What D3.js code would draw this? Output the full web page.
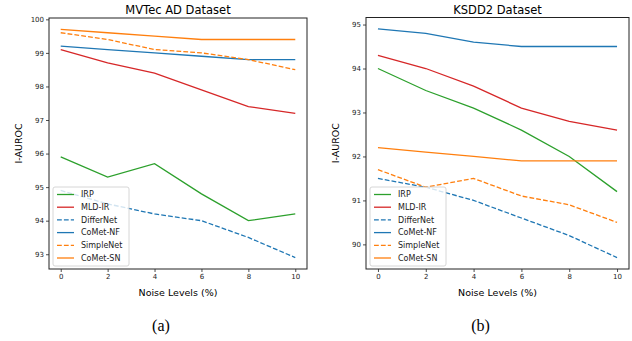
<!DOCTYPE html>
<html>
<head>
<meta charset="utf-8">
<script src="https://cdn.jsdelivr.net/npm/d3@7"></script>
<style>
  body { margin: 0; background: #fff; }
  svg { display: block; }
</style>
</head>
<body>
<svg id="chart" width="632" height="341"></svg>
<script>
const noiseLevels = [0, 2, 4, 6, 8, 10];
const methods = ['IRP', 'MLD-IR', 'DifferNet', 'CoMet-NF', 'SimpleNet', 'CoMet-SN'];
const colors = ['#2ca02c', '#d62728', '#1f77b4', '#1f77b4', '#ff7f0e', '#ff7f0e'];
const dashed = [false, false, true, false, true, false];

// MVTec AD
const mvtecValues = [
    [95.9, 95.3, 95.7, 94.8, 94.0, 94.2],
    [99.1, 98.7, 98.4, 97.9, 97.4, 97.2],
    [94.9, 94.5, 94.2, 94.0, 93.5, 92.9],
    [99.2, 99.1, 99.0, 98.9, 98.8, 98.8],
    [99.6, 99.4, 99.1, 99.0, 98.8, 98.5],
    [99.7, 99.6, 99.5, 99.4, 99.4, 99.4]
];
const mvtecTicks = [93, 94, 95, 96, 97, 98, 99, 100];

// KSDD2
const ksddValues = [
    [94.0, 93.5, 93.1, 92.6, 92.0, 91.2],
    [94.3, 94.0, 93.6, 93.1, 92.8, 92.6],
    [91.5, 91.3, 91.0, 90.6, 90.2, 89.7],
    [94.9, 94.8, 94.6, 94.5, 94.5, 94.5],
    [91.7, 91.3, 91.5, 91.1, 90.9, 90.5],
    [92.2, 92.1, 92.0, 91.9, 91.9, 91.9]
];
const ksddTicks = [90, 91, 92, 93, 94, 95];

const svg = d3.select('#chart');
const font = 'DejaVu Sans, sans-serif';

function drawPanel(opts) {
    const { left, right, top, bottom, title, values, ticks, caption } = opts;
    const g = svg.append('g');

    const all = values.flat();
    const lo = d3.min(all), hi = d3.max(all);
    const pad = (hi - lo) * 0.05;

    const x = d3.scaleLinear().domain([-0.5, 10.5]).range([left, right]);
    const y = d3.scaleLinear().domain([lo - pad, hi + pad]).range([bottom, top]);

    // lines
    const line = d3.line()
        .x((d, i) => x(noiseLevels[i]))
        .y(d => y(d));

    values.forEach((vals, k) => {
        g.append('path')
            .datum(vals)
            .attr('d', line)
            .attr('fill', 'none')
            .attr('stroke', colors[k])
            .attr('stroke-width', 1.3)
            .attr('stroke-dasharray', dashed[k] ? '4.8,2.1' : null);
    });

    // axes
    const xAxis = g.append('g')
        .attr('transform', `translate(0,${bottom})`)
        .call(d3.axisBottom(x).tickValues(noiseLevels).tickFormat(d3.format('d')).tickSize(3).tickPadding(2));
    const yAxis = g.append('g')
        .attr('transform', `translate(${left},0)`)
        .call(d3.axisLeft(y).tickValues(ticks).tickFormat(d3.format('d')).tickSize(3).tickPadding(2));

    [xAxis, yAxis].forEach(a => {
        a.select('.domain').remove();
        a.selectAll('text')
            .style('font-family', font)
            .style('font-size', '7px')
            .attr('fill', '#222');
        a.selectAll('line').attr('stroke', '#222').attr('stroke-width', 0.8);
    });

    // frame
    g.append('rect')
        .attr('x', left).attr('y', top)
        .attr('width', right - left).attr('height', bottom - top)
        .attr('fill', 'none')
        .attr('stroke', '#222')
        .attr('stroke-width', 1);

    // title
    g.append('text')
        .attr('x', (left + right) / 2)
        .attr('y', top - 4)
        .attr('text-anchor', 'middle')
        .style('font-family', font)
        .style('font-size', '11.5px')
        .text(title);

    g.append('text')
        .attr('transform', `translate(${left - 27},${(top + bottom) / 2}) rotate(-90)`)
        .attr('text-anchor', 'middle')
        .style('font-family', font)
        .style('font-size', '9.5px')
        .text('I-AUROC');

    g.append('text')
        .attr('x', (left + right) / 2)
        .attr('y', bottom + 27)
        .attr('text-anchor', 'middle')
        .style('font-family', font)
        .style('font-size', '9.5px')
        .text('Noise Levels (%)');

    g.append('text')
        .attr('x', (left + right) / 2 - 17)
        .attr('y', bottom + 62)
        .attr('text-anchor', 'middle')
        .style('font-family', 'Liberation Serif, serif')
        .style('font-size', '16px')
        .text(caption);

    // legend
    const lx = left + 4, ly = bottom - 82;
    const legend = g.append('g').attr('transform', `translate(${lx},${ly})`);
    legend.append('rect')
        .attr('width', 76).attr('height', 79)
        .attr('rx', 2)
        .attr('fill', 'rgba(255,255,255,0.8)')
        .attr('stroke', '#ccc')
        .attr('stroke-width', 0.8);
    methods.forEach((m, k) => {
        const yy = 7.5 + k * 12.7;
        legend.append('line')
            .attr('x1', 4).attr('x2', 21)
            .attr('y1', yy).attr('y2', yy)
            .attr('stroke', colors[k])
            .attr('stroke-width', 1.3)
            .attr('stroke-dasharray', dashed[k] ? '4.8,2.1' : null);
        legend.append('text')
            .attr('x', 28).attr('y', yy)
            .attr('dy', '0.35em')
            .style('font-family', font)
            .style('font-size', '8px')
            .attr('fill', '#222')
            .text(m);
    });
}

drawPanel({ left: 49, right: 307, top: 18, bottom: 269,
    title: 'MVTec AD Dataset', values: mvtecValues, ticks: mvtecTicks, caption: '(a)' });
drawPanel({ left: 366, right: 629, top: 17.5, bottom: 269,
    title: 'KSDD2 Dataset', values: ksddValues, ticks: ksddTicks, caption: '(b)' });
</script>
</body>
</html>
